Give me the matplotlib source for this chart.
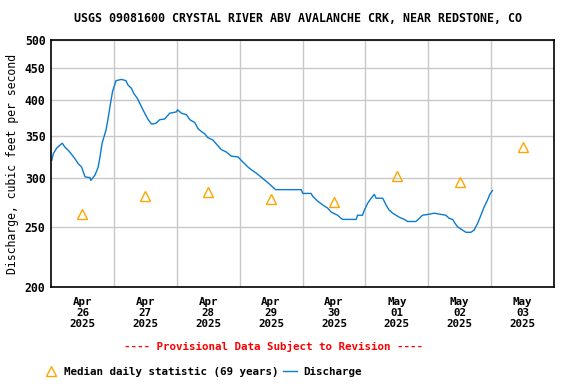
import matplotlib
matplotlib.use('Agg')
import matplotlib.pyplot as plt
from matplotlib.ticker import FixedLocator, NullFormatter, NullLocator

# discharge readings (hours since Apr 26 00:00, cfs)
hours = [0.3, 0.9, 2.2, 4.3, 5.3, 6.6, 7.9, 9.1, 10.4, 11.7, 13.0, 14.9, 15.2,
         16.8, 18.0, 18.7, 19.5, 21.0, 21.8, 22.7, 23.5, 24.8, 26.9, 28.6, 29.4,
         30.7, 31.6, 32.9, 34.2, 35.5, 37.1, 38.4, 40.0, 41.5, 43.4, 45.3, 47.9,
         48.3, 49.8, 51.7, 53.0, 54.9, 56.1, 57.4, 58.7, 59.9, 61.8, 63.1, 65.0,
         66.9, 68.8, 71.4, 72.6, 73.9, 75.2, 76.5, 78.4, 80.9, 83.4, 85.7, 91.0,
         95.5, 96.1, 99.3, 99.9, 101.8, 103.8, 105.6, 107.0, 109.4, 110.7, 111.4,
         116.5, 117.0, 118.9, 119.6, 120.9, 122.2, 123.4, 124.1, 126.6, 127.2,
         127.9, 129.1, 130.4, 133.0, 134.9, 136.1, 139.3, 140.6, 141.8, 144.4,
         146.3, 150.7, 152.0, 153.3, 154.3, 155.2, 157.1, 158.4, 160.3, 161.5,
         162.8, 164.1, 165.3, 166.6, 167.5, 168.5]
discharge = [320, 328, 335, 341, 336, 332, 327, 322, 316, 312, 301, 300, 297,
             303, 312, 324, 341, 358, 374, 395, 413, 430, 432, 430, 423,
             418, 410, 403, 393, 383, 372, 366, 367, 372, 373, 381, 383,
             386, 381, 379, 372, 368, 360, 356, 353, 348, 345, 340, 333,
             330, 325, 324, 320, 316, 312, 309, 305, 299, 293, 287, 287,
             287, 283, 283, 280, 275, 271, 268, 264, 261, 258, 257,
             257, 261, 261, 266, 273, 278, 282, 278, 278, 275,
             271, 266, 263, 259, 257, 255, 255, 258, 261, 262,
             263, 261, 258, 257, 253, 250, 247, 245, 245, 247,
             253, 261, 269, 276, 282, 286]

# median daily statistic, one per day at noon
median_days = [0.5, 1.5, 2.5, 3.5, 4.5, 5.5, 6.5, 7.5]
median_vals = [262, 280, 284, 277, 274, 302, 295, 336]

day_labels = ['Apr\n26\n2025', 'Apr\n27\n2025', 'Apr\n28\n2025', 'Apr\n29\n2025',
              'Apr\n30\n2025', 'May\n01\n2025', 'May\n02\n2025', 'May\n03\n2025']
y_ticks = [200, 250, 300, 350, 400, 450, 500]

mono = 'DejaVu Sans Mono'
plt.rcParams['font.family'] = mono
plt.rcParams['font.weight'] = 'bold'

fig = plt.figure(figsize=(5.76, 3.84), dpi=100)
ax = fig.add_axes([51/576, 1-287/384, 503/576, 247/384])

days = [h / 24 for h in hours]
disc_line, = ax.plot(days, discharge, color='#0a7bd0', lw=1.0, label='Discharge')
med, = ax.plot(median_days, median_vals, linestyle='none', marker='^', markersize=7.5,
               markerfacecolor='none', markeredgecolor='#ffa500', markeredgewidth=1.0,
               label='Median daily statistic (69 years)')

ax.set_yscale('log')
ax.set_ylim(200, 500)
ax.yaxis.set_major_locator(FixedLocator(y_ticks))
ax.yaxis.set_minor_locator(NullLocator())
ax.set_yticklabels([str(v) for v in y_ticks])
ax.yaxis.set_minor_formatter(NullFormatter())

ax.set_xlim(0, 8)
ax.set_xticks(median_days)
ax.set_xticklabels(day_labels, linespacing=1.15)
ax.set_xticks(range(1, 8), minor=True)

ax.grid(True, which='minor', axis='x', color='#c8c8c8', lw=1)
ax.grid(True, which='major', axis='y', color='#c8c8c8', lw=1)
ax.grid(False, which='major', axis='x')
ax.set_axisbelow(True)
ax.tick_params(which='both', length=0)
ax.tick_params(axis='y', labelsize=8.3, pad=4)
ax.tick_params(axis='x', labelsize=7.8, pad=7)
for s in ax.spines.values():
    s.set_linewidth(1.2)

ax.set_ylabel('Discharge, cubic feet per second', fontsize=8.3, labelpad=4)
fig.text(298/576, 1-19/384, 'USGS 09081600 CRYSTAL RIVER ABV AVALANCHE CRK, NEAR REDSTONE, CO',
         ha='center', va='center', fontsize=8.4)
fig.text(273.5/576, 1-346/384, '---- Provisional Data Subject to Revision ----',
         ha='center', va='center', fontsize=7.8, color='red')

fig.legend(handles=[med, disc_line], loc='center left', bbox_to_anchor=(44/576, 1-372/384),
           ncol=2, frameon=False, fontsize=7.8, handlelength=1.3, handletextpad=0.5,
           columnspacing=0.5, borderaxespad=0, borderpad=0)

fig.savefig('out.png', dpi=100)
